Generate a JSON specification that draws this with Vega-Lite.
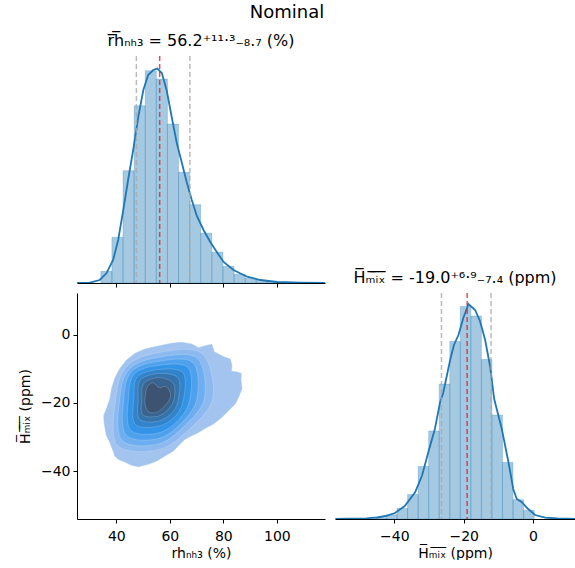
{
  "$schema": "https://vega.github.io/schema/vega-lite/v6.json",
  "background": "white",
  "padding": {"left": 18, "top": 4, "right": 0, "bottom": 0},
  "title": {"text": "Nominal", "fontSize": 18, "fontWeight": "normal", "font": "DejaVu Sans", "color": "black", "anchor": "middle", "frame": "group", "dx": 210, "offset": 11},
  "bounds": "flush",
  "spacing": 10,
  "config": {
    "font": "DejaVu Sans",
    "view": {"stroke": null},
    "axis": {"labelFont": "DejaVu Sans", "titleFont": "DejaVu Sans", "labelFontSize": 14, "titleFontSize": 14, "titleFontWeight": "normal", "labelColor": "#000", "titleColor": "#000", "domainColor": "#000", "tickColor": "#000", "tickSize": 4, "domainWidth": 1, "tickWidth": 1, "grid": false, "labelPadding": 3, "labelOverlap": false, "labelFlush": false},
    "axisX": {"labelPadding": 6},
    "title": {"font": "DejaVu Sans", "fontWeight": "normal", "color": "#000"}
  },
  "datasets": {
    "rhHist": [
      {"x0": 34.2, "x1": 38.35, "h": 11.7},
      {"x0": 38.35, "x1": 42.5, "h": 45.7},
      {"x0": 42.5, "x1": 46.65, "h": 112.3},
      {"x0": 46.65, "x1": 50.8, "h": 177.3},
      {"x0": 50.8, "x1": 54.95, "h": 212.3},
      {"x0": 54.95, "x1": 59.1, "h": 204},
      {"x0": 59.1, "x1": 63.25, "h": 159},
      {"x0": 63.25, "x1": 67.4, "h": 110.7},
      {"x0": 67.4, "x1": 71.55, "h": 78.3},
      {"x0": 71.55, "x1": 75.7, "h": 49.8},
      {"x0": 75.7, "x1": 79.85, "h": 30.8},
      {"x0": 79.85, "x1": 84.0, "h": 16.5},
      {"x0": 84.0, "x1": 88.15, "h": 8.8},
      {"x0": 88.15, "x1": 92.3, "h": 4.7},
      {"x0": 92.3, "x1": 96.45, "h": 2.7},
      {"x0": 96.45, "x1": 100.6, "h": 1.3},
      {"x0": 100.6, "x1": 104.75, "h": 0.7},
      {"x0": 104.75, "x1": 108.9, "h": 0.4}
    ],
    "rhKde": [
      {"x": 25.3, "h": 0}, {"x": 30.1, "h": 0.3}, {"x": 33.8, "h": 3}, {"x": 36.3, "h": 9.7},
      {"x": 38.8, "h": 23}, {"x": 40.7, "h": 43}, {"x": 42.6, "h": 73}, {"x": 44.4, "h": 103},
      {"x": 46.3, "h": 133}, {"x": 48.2, "h": 166}, {"x": 50.1, "h": 193}, {"x": 51.9, "h": 208},
      {"x": 53.8, "h": 213}, {"x": 55.3, "h": 214.5}, {"x": 57.0, "h": 210}, {"x": 58.8, "h": 193},
      {"x": 60.7, "h": 166}, {"x": 62.6, "h": 140}, {"x": 64.5, "h": 120}, {"x": 66.3, "h": 101},
      {"x": 68.2, "h": 83}, {"x": 70.1, "h": 67}, {"x": 72.6, "h": 53}, {"x": 75.1, "h": 41},
      {"x": 77.8, "h": 30}, {"x": 80.1, "h": 21}, {"x": 83.8, "h": 13}, {"x": 88.9, "h": 6.3},
      {"x": 93.8, "h": 3}, {"x": 100.1, "h": 1}, {"x": 108.9, "h": 0.3}, {"x": 118, "h": 0}
    ],
    "rhLines": [
      {"v": 47.5, "kind": "q"}, {"v": 67.5, "kind": "q"}, {"v": 56.2, "kind": "m"}
    ],
    "hHist": [
      {"x0": -45.29, "x1": -42.25, "h": 1.2},
      {"x0": -42.25, "x1": -39.21, "h": 4.3},
      {"x0": -39.21, "x1": -36.17, "h": 10.7},
      {"x0": -36.17, "x1": -33.13, "h": 24.5},
      {"x0": -33.13, "x1": -30.09, "h": 52.5},
      {"x0": -30.09, "x1": -27.05, "h": 88},
      {"x0": -27.05, "x1": -24.01, "h": 135},
      {"x0": -24.01, "x1": -20.97, "h": 177.5},
      {"x0": -20.97, "x1": -17.93, "h": 212.5},
      {"x0": -17.93, "x1": -14.89, "h": 203},
      {"x0": -14.89, "x1": -11.85, "h": 159.5},
      {"x0": -11.85, "x1": -8.81, "h": 104},
      {"x0": -8.81, "x1": -5.77, "h": 56.5},
      {"x0": -5.77, "x1": -2.73, "h": 19.3},
      {"x0": -2.73, "x1": 0.31, "h": 8.7}
    ],
    "hKde": [
      {"x": -57, "h": 0.1}, {"x": -53.5, "h": 0.3}, {"x": -48, "h": 0.7}, {"x": -45, "h": 1.5},
      {"x": -42.5, "h": 3}, {"x": -39.8, "h": 6}, {"x": -37, "h": 13}, {"x": -34, "h": 26.7},
      {"x": -32, "h": 43.5}, {"x": -30.2, "h": 66.7}, {"x": -28.3, "h": 90}, {"x": -26.8, "h": 116.7},
      {"x": -25.9, "h": 126}, {"x": -23.9, "h": 159}, {"x": -22.8, "h": 174}, {"x": -21.5, "h": 184},
      {"x": -20.1, "h": 201}, {"x": -18.6, "h": 215}, {"x": -16.7, "h": 209}, {"x": -15.3, "h": 198},
      {"x": -13.8, "h": 179}, {"x": -12.4, "h": 153}, {"x": -11.2, "h": 120}, {"x": -9.0, "h": 90},
      {"x": -7.1, "h": 57}, {"x": -5.7, "h": 30}, {"x": -4.7, "h": 20}, {"x": -3.3, "h": 17},
      {"x": -1.4, "h": 10}, {"x": 0.6, "h": 4}, {"x": 3.5, "h": 1.3}, {"x": 7, "h": 0.5}, {"x": 12.1, "h": 0.1}
    ],
    "hLines": [
      {"v": -26.4, "kind": "q"}, {"v": -12.1, "kind": "q"}, {"v": -19.0, "kind": "m"}
    ],
    "contours": [
      {"level": 1, "i": 0, "x": 54.4, "y": -3.47}, {"level": 1, "i": 1, "x": 60.7, "y": -2.48},
      {"level": 1, "i": 2, "x": 64.4, "y": -2.18}, {"level": 1, "i": 3, "x": 68.2, "y": -2.68},
      {"level": 1, "i": 4, "x": 70.7, "y": -3.76}, {"level": 1, "i": 5, "x": 73.2, "y": -3.17},
      {"level": 1, "i": 6, "x": 75.7, "y": -2.78}, {"level": 1, "i": 7, "x": 76.6, "y": -4.95},
      {"level": 1, "i": 8, "x": 80.1, "y": -6.43}, {"level": 1, "i": 9, "x": 82.6, "y": -7.12},
      {"level": 1, "i": 10, "x": 83.2, "y": -8.9}, {"level": 1, "i": 11, "x": 83.0, "y": -10.68},
      {"level": 1, "i": 12, "x": 85.1, "y": -10.88}, {"level": 1, "i": 13, "x": 86.7, "y": -11.37},
      {"level": 1, "i": 14, "x": 86.6, "y": -13.35}, {"level": 1, "i": 15, "x": 87.0, "y": -15.82},
      {"level": 1, "i": 16, "x": 85.7, "y": -18.29}, {"level": 1, "i": 17, "x": 84.5, "y": -20.26},
      {"level": 1, "i": 18, "x": 82.0, "y": -22.24}, {"level": 1, "i": 19, "x": 79.5, "y": -24.21},
      {"level": 1, "i": 20, "x": 76.3, "y": -26.19}, {"level": 1, "i": 21, "x": 73.2, "y": -27.47},
      {"level": 1, "i": 22, "x": 70.7, "y": -28.66}, {"level": 1, "i": 23, "x": 68.2, "y": -29.65},
      {"level": 1, "i": 24, "x": 65.7, "y": -30.64}, {"level": 1, "i": 25, "x": 63.2, "y": -32.61},
      {"level": 1, "i": 26, "x": 61.3, "y": -34.09}, {"level": 1, "i": 27, "x": 58.2, "y": -35.57},
      {"level": 1, "i": 28, "x": 55.1, "y": -37.06}, {"level": 1, "i": 29, "x": 51.9, "y": -38.05},
      {"level": 1, "i": 30, "x": 48.2, "y": -38.74}, {"level": 1, "i": 31, "x": 45.7, "y": -38.34},
      {"level": 1, "i": 32, "x": 43.2, "y": -37.35}, {"level": 1, "i": 33, "x": 40.7, "y": -36.57},
      {"level": 1, "i": 34, "x": 39.4, "y": -35.57}, {"level": 1, "i": 35, "x": 38.8, "y": -34.09},
      {"level": 1, "i": 36, "x": 37.6, "y": -31.62}, {"level": 1, "i": 37, "x": 36.3, "y": -29.65},
      {"level": 1, "i": 38, "x": 35.4, "y": -25.7}, {"level": 1, "i": 39, "x": 35.3, "y": -23.72},
      {"level": 1, "i": 40, "x": 36.3, "y": -21.74}, {"level": 1, "i": 41, "x": 37.6, "y": -18.78},
      {"level": 1, "i": 42, "x": 38.2, "y": -15.82}, {"level": 1, "i": 43, "x": 39.4, "y": -12.85},
      {"level": 1, "i": 44, "x": 41.3, "y": -9.89}, {"level": 1, "i": 45, "x": 43.8, "y": -7.42},
      {"level": 1, "i": 46, "x": 46.9, "y": -5.44}, {"level": 1, "i": 47, "x": 50.7, "y": -4.16},
      {"level": 2, "i": 0, "x": 76.09, "y": -18.49}, {"level": 2, "i": 1, "x": 71.96, "y": -5.44},
      {"level": 2, "i": 2, "x": 55.45, "y": -5.25}, {"level": 2, "i": 3, "x": 43.82, "y": -9.3},
      {"level": 2, "i": 4, "x": 39.81, "y": -18.49}, {"level": 2, "i": 5, "x": 40.19, "y": -32.32},
      {"level": 2, "i": 6, "x": 55.45, "y": -33.8}, {"level": 2, "i": 7, "x": 67.21, "y": -27.77},
      {"level": 3, "i": 0, "x": 72.96, "y": -18.49}, {"level": 3, "i": 1, "x": 70.21, "y": -6.83},
      {"level": 3, "i": 2, "x": 55.45, "y": -6.63}, {"level": 3, "i": 3, "x": 44.82, "y": -10.09},
      {"level": 3, "i": 4, "x": 41.31, "y": -18.49}, {"level": 3, "i": 5, "x": 41.94, "y": -30.84},
      {"level": 3, "i": 6, "x": 55.45, "y": -32.12}, {"level": 3, "i": 7, "x": 65.71, "y": -26.59},
      {"level": 4, "i": 0, "x": 70.21, "y": -18.49}, {"level": 4, "i": 1, "x": 68.58, "y": -8.11},
      {"level": 4, "i": 2, "x": 55.45, "y": -7.81}, {"level": 4, "i": 3, "x": 45.69, "y": -10.78},
      {"level": 4, "i": 4, "x": 42.81, "y": -18.49}, {"level": 4, "i": 5, "x": 43.56, "y": -29.35},
      {"level": 4, "i": 6, "x": 55.45, "y": -30.54}, {"level": 4, "i": 7, "x": 64.58, "y": -25.7},
      {"level": 5, "i": 0, "x": 67.58, "y": -18.49}, {"level": 5, "i": 1, "x": 66.71, "y": -9.59},
      {"level": 5, "i": 2, "x": 55.45, "y": -9.0}, {"level": 5, "i": 3, "x": 46.69, "y": -11.57},
      {"level": 5, "i": 4, "x": 44.57, "y": -18.49}, {"level": 5, "i": 5, "x": 45.19, "y": -27.87},
      {"level": 5, "i": 6, "x": 55.45, "y": -28.86}, {"level": 5, "i": 7, "x": 63.46, "y": -24.81},
      {"level": 6, "i": 0, "x": 65.21, "y": -18.49}, {"level": 6, "i": 1, "x": 64.83, "y": -11.07},
      {"level": 6, "i": 2, "x": 55.45, "y": -10.19}, {"level": 6, "i": 3, "x": 47.82, "y": -12.46},
      {"level": 6, "i": 4, "x": 46.57, "y": -18.49}, {"level": 6, "i": 5, "x": 46.94, "y": -26.19},
      {"level": 6, "i": 6, "x": 55.45, "y": -26.88}, {"level": 6, "i": 7, "x": 62.2, "y": -23.82},
      {"level": 7, "i": 0, "x": 63.33, "y": -18.49}, {"level": 7, "i": 1, "x": 62.96, "y": -12.56},
      {"level": 7, "i": 2, "x": 55.45, "y": -11.37}, {"level": 7, "i": 3, "x": 48.94, "y": -13.35},
      {"level": 7, "i": 4, "x": 48.19, "y": -18.49}, {"level": 7, "i": 5, "x": 48.57, "y": -24.71},
      {"level": 7, "i": 6, "x": 55.45, "y": -25.4}, {"level": 7, "i": 7, "x": 60.95, "y": -22.83},
      {"level": 8, "i": 0, "x": 61.7, "y": -18.49}, {"level": 8, "i": 1, "x": 61.08, "y": -14.04},
      {"level": 8, "i": 2, "x": 55.45, "y": -12.56}, {"level": 8, "i": 3, "x": 50.2, "y": -14.34},
      {"level": 8, "i": 4, "x": 49.57, "y": -18.49}, {"level": 8, "i": 5, "x": 49.82, "y": -23.43},
      {"level": 8, "i": 6, "x": 55.45, "y": -23.92}, {"level": 8, "i": 7, "x": 59.58, "y": -21.75},
      {"level": 9, "i": 0, "x": 56.07, "y": -15.52}, {"level": 9, "i": 1, "x": 58.2, "y": -15.13},
      {"level": 9, "i": 2, "x": 59.83, "y": -16.31}, {"level": 9, "i": 3, "x": 60.2, "y": -18.49},
      {"level": 9, "i": 4, "x": 58.2, "y": -20.76}, {"level": 9, "i": 5, "x": 55.45, "y": -22.64},
      {"level": 9, "i": 6, "x": 52.32, "y": -22.73}, {"level": 9, "i": 7, "x": 50.82, "y": -20.76},
      {"level": 9, "i": 8, "x": 50.82, "y": -17.79}, {"level": 9, "i": 9, "x": 51.57, "y": -15.32},
      {"level": 9, "i": 10, "x": 53.57, "y": -14.04}
    ]
  },
  "vconcat": [
    {
      "width": 248,
      "height": 227,
      "title": {"text": "r̅h̅ₙₕ₃ = 56.2⁺¹¹·³₋₈.₇  (%)", "fontSize": 16, "offset": 6},
      "layer": [
        {
          "data": {"name": "rhHist"},
          "mark": {"type": "rect", "fill": "#1f77b4", "fillOpacity": 0.4, "stroke": "#1f77b4", "strokeOpacity": 0.3, "strokeWidth": 0.8},
          "encoding": {
            "x": {"field": "x0", "type": "quantitative", "scale": {"domain": [25.3, 118], "nice": false, "zero": false}, "axis": {"values": [40, 60, 80, 100], "labels": false, "title": null}},
            "x2": {"field": "x1"},
            "y": {"field": "h", "type": "quantitative", "scale": {"domain": [0, 227], "nice": false}, "axis": null},
            "y2": {"datum": 0}
          }
        },
        {
          "data": {"name": "rhKde"},
          "mark": {"type": "line", "color": "#1f77b4", "strokeWidth": 1.8, "clip": true},
          "encoding": {
            "x": {"field": "x", "type": "quantitative", "scale": {"domain": [25.3, 118], "nice": false, "zero": false}},
            "y": {"field": "h", "type": "quantitative", "scale": {"domain": [0, 227], "nice": false}}
          }
        },
        {
          "data": {"name": "rhLines"},
          "mark": {"type": "rule", "strokeDash": [5, 3], "strokeWidth": 1.5, "opacity": 0.8},
          "encoding": {
            "x": {"field": "v", "type": "quantitative", "scale": {"domain": [25.3, 118], "nice": false, "zero": false}},
            "color": {"field": "kind", "type": "nominal", "scale": {"domain": ["q", "m"], "range": ["#aaaaaa", "#d62728"]}, "legend": null}
          }
        }
      ]
    },
    {
      "hconcat": [
        {
          "width": 248,
          "height": 226,
          "layer": [
            {
              "data": {"name": "contours"},
              "transform": [{"filter": "datum.level == 1"}],
              "mark": {"type": "line", "interpolate": "linear-closed", "fill": "#a3c4ef", "stroke": "#a3c4ef", "strokeWidth": 0.5},
              "encoding": {
                "x": {"field": "x", "type": "quantitative", "scale": {"domain": [25.3, 118], "nice": false, "zero": false}, "axis": {"values": [40, 60, 80, 100], "title": "rhₙₕ₃ (%)", "titlePadding": 3}},
                "y": {"field": "y", "type": "quantitative", "scale": {"domain": [-54.1, 12.3], "nice": false, "zero": false}, "axis": {"values": [-40, -20, 0], "title": "H̅ₘ̅ᵢ̅ₓ̅ (ppm)", "titlePadding": 8}},
                "order": {"field": "i", "type": "quantitative"}
              }
            },
            {
              "data": {"name": "contours"},
              "transform": [{"filter": "datum.level > 1"}],
              "mark": {"type": "line", "interpolate": "cardinal-closed", "stroke": "#ffffff", "strokeOpacity": 0.3, "strokeWidth": 0.6},
              "encoding": {
                "x": {"field": "x", "type": "quantitative", "scale": {"domain": [25.3, 118], "nice": false, "zero": false}},
                "y": {"field": "y", "type": "quantitative", "scale": {"domain": [-54.1, 12.3], "nice": false, "zero": false}},
                "fill": {"field": "level", "type": "ordinal", "scale": {"domain": [2, 3, 4, 5, 6, 7, 8, 9], "range": ["#8cbaf0", "#6eaef0", "#4fa1ee", "#3393e6", "#3183cc", "#3573ad", "#396490", "#3c5472"]}, "legend": null},
                "order": {"field": "i", "type": "quantitative"}
              }
            }
          ]
        },
        {
          "width": 240,
          "height": 226,
          "title": {"text": "H̅ₘ̅ᵢ̅ₓ̅ = -19.0⁺⁶·⁹₋₇.₄  (ppm)", "fontSize": 16, "offset": 6},
          "layer": [
            {
              "data": {"name": "hHist"},
              "mark": {"type": "rect", "fill": "#1f77b4", "fillOpacity": 0.4, "stroke": "#1f77b4", "strokeOpacity": 0.3, "strokeWidth": 0.8},
              "encoding": {
                "x": {"field": "x0", "type": "quantitative", "scale": {"domain": [-57.1, 12.1], "nice": false, "zero": false}, "axis": {"values": [-40, -20, 0], "title": "H̅ₘ̅ᵢ̅ₓ̅ (ppm)", "titlePadding": 3}},
                "x2": {"field": "x1"},
                "y": {"field": "h", "type": "quantitative", "scale": {"domain": [0, 226], "nice": false}, "axis": null},
                "y2": {"datum": 0}
              }
            },
            {
              "data": {"name": "hKde"},
              "mark": {"type": "line", "color": "#1f77b4", "strokeWidth": 1.8, "clip": true},
              "encoding": {
                "x": {"field": "x", "type": "quantitative", "scale": {"domain": [-57.1, 12.1], "nice": false, "zero": false}},
                "y": {"field": "h", "type": "quantitative", "scale": {"domain": [0, 226], "nice": false}}
              }
            },
            {
              "data": {"name": "hLines"},
              "mark": {"type": "rule", "strokeDash": [5, 3], "strokeWidth": 1.5, "opacity": 0.8},
              "encoding": {
                "x": {"field": "v", "type": "quantitative", "scale": {"domain": [-57.1, 12.1], "nice": false, "zero": false}},
                "color": {"field": "kind", "type": "nominal", "scale": {"domain": ["q", "m"], "range": ["#aaaaaa", "#d62728"]}, "legend": null}
              }
            }
          ]
        }
      ],
      "spacing": 10,
      "bounds": "flush"
    }
  ]
}
